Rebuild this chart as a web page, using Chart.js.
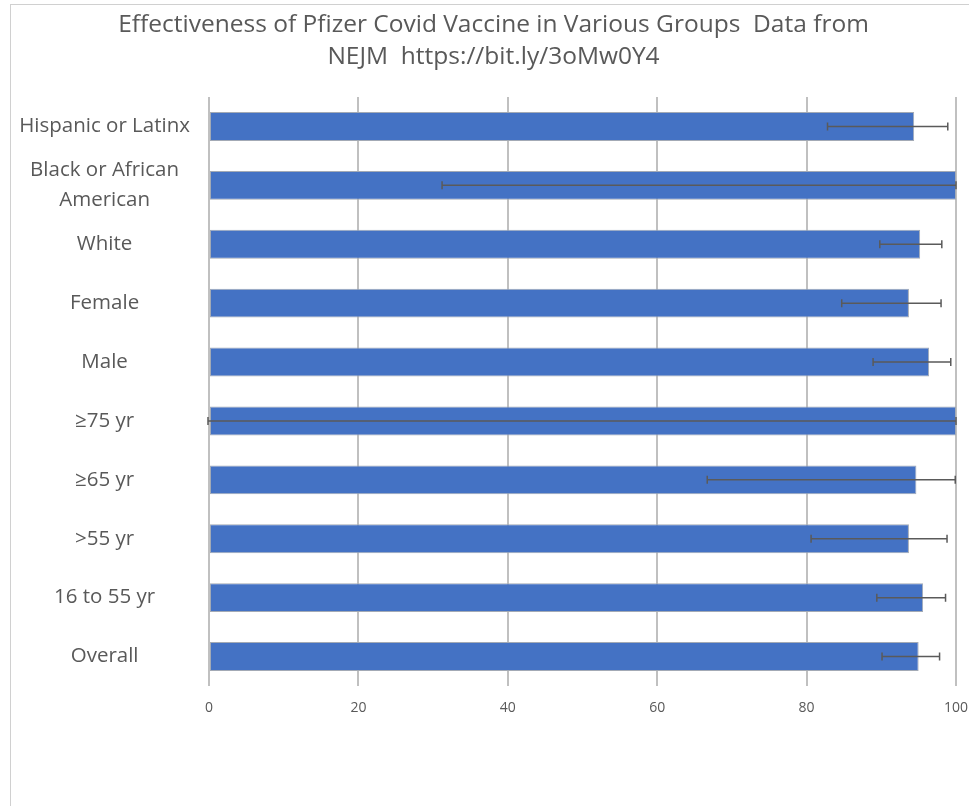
<!DOCTYPE html>
<html>
<head>
<meta charset="utf-8">
<script src="https://cdn.jsdelivr.net/npm/chart.js@4.4.1/dist/chart.umd.min.js"></script>
<style>
  html, body { margin: 0; padding: 0; background: #fff; overflow: hidden; }
  #frame { position: absolute; left: 10px; top: 4px; width: 1200px; height: 1000px;
           border-left: 1px solid #d0d0d0; border-top: 1px solid #d0d0d0; }
  #wrap { position: absolute; left: 0; top: 0; width: 987px; height: 806px; }
</style>
</head>
<body>
<div id="frame"></div>
<div id="wrap"><canvas id="c"></canvas></div>
<script>
const titleLines = ['Effectiveness of Pfizer Covid Vaccine in Various Groups  Data from', 'NEJM  https://bit.ly/3oMw0Y4'];
const categories = ['Hispanic or Latinx', ['Black or African', 'American'], 'White', 'Female', 'Male', '≥75 yr', '≥65 yr', '>55 yr', '16 to 55 yr', 'Overall'];
const efficacy = [94.4, 100.0, 95.2, 93.7, 96.4, 100.0, 94.7, 93.7, 95.6, 95.0];
const ciLower  = [82.8, 31.2, 89.8, 84.7, 88.9, -13.1, 66.7, 80.6, 89.4, 90.1];
const ciUpper  = [98.9, 100.0, 98.1, 98.0, 99.3, 100.0, 99.9, 98.8, 98.6, 97.8];
const xTicks = [0, 20, 40, 60, 80, 100];

const errorBars = {
  id: 'errorBars',
  afterDatasetsDraw(chart) {
    const ctx = chart.ctx;
    const xs = chart.scales.x;
    const area = chart.chartArea;
    const meta = chart.getDatasetMeta(0);
    ctx.save();
    ctx.strokeStyle = '#5a5a5a';
    ctx.lineWidth = 1.5;
    meta.data.forEach((bar, i) => {
      const y = bar.y;
      let x1 = xs.getPixelForValue(ciLower[i]);
      let x2 = xs.getPixelForValue(ciUpper[i]);
      x1 = Math.max(x1, area.left - 1);
      x2 = Math.min(x2, area.right);
      ctx.beginPath();
      ctx.moveTo(x1, y); ctx.lineTo(x2, y);
      ctx.moveTo(x1, y - 4); ctx.lineTo(x1, y + 4);
      ctx.moveTo(x2, y - 4); ctx.lineTo(x2, y + 4);
      ctx.stroke();
    });
    ctx.restore();
  }
};

new Chart(document.getElementById('c'), {
  type: 'bar',
  data: {
    labels: categories,
    datasets: [{
      data: efficacy,
      backgroundColor: '#4472C4',
      borderColor: '#a3aab5',
      borderWidth: 1,
      borderSkipped: false,
      categoryPercentage: 1,
      barPercentage: 0.49
    }]
  },
  options: {
    indexAxis: 'y',
    responsive: true,
    maintainAspectRatio: false,
    animation: false,
    layout: { padding: { left: 0, right: 0, top: 0, bottom: 0 } },
    plugins: {
      legend: { display: false },
      tooltip: { enabled: false },
      title: {
        display: true,
        text: titleLines,
        color: '#595959',
        font: { family: 'Open Sans', size: 24.5, weight: 'normal', lineHeight: 1.3 },
        padding: { top: 9, bottom: 24.3 }
      }
    },
    scales: {
      x: {
        min: 0, max: 100,
        afterBuildTicks(scale) { scale.ticks = xTicks.map(v => ({ value: v })); },
        afterFit(scale) { scale.height = 120; scale.paddingRight = 31; },
        grid: { color: '#c0c0c0', lineWidth: 2, drawTicks: false },
        border: { display: false },
        ticks: { color: '#595959', font: { family: 'Open Sans', size: 14 }, padding: 14 }
      },
      y: {
        afterFit(scale) { scale.width = 209; },
        grid: { display: false, drawTicks: false },
        border: { display: false },
        ticks: { color: '#595959', font: { family: 'Open Sans', size: 20.5, lineHeight: 1.45 }, padding: 19, crossAlign: 'center', autoSkip: false }
      }
    }
  },
  plugins: [errorBars]
});
</script>
</body>
</html>
